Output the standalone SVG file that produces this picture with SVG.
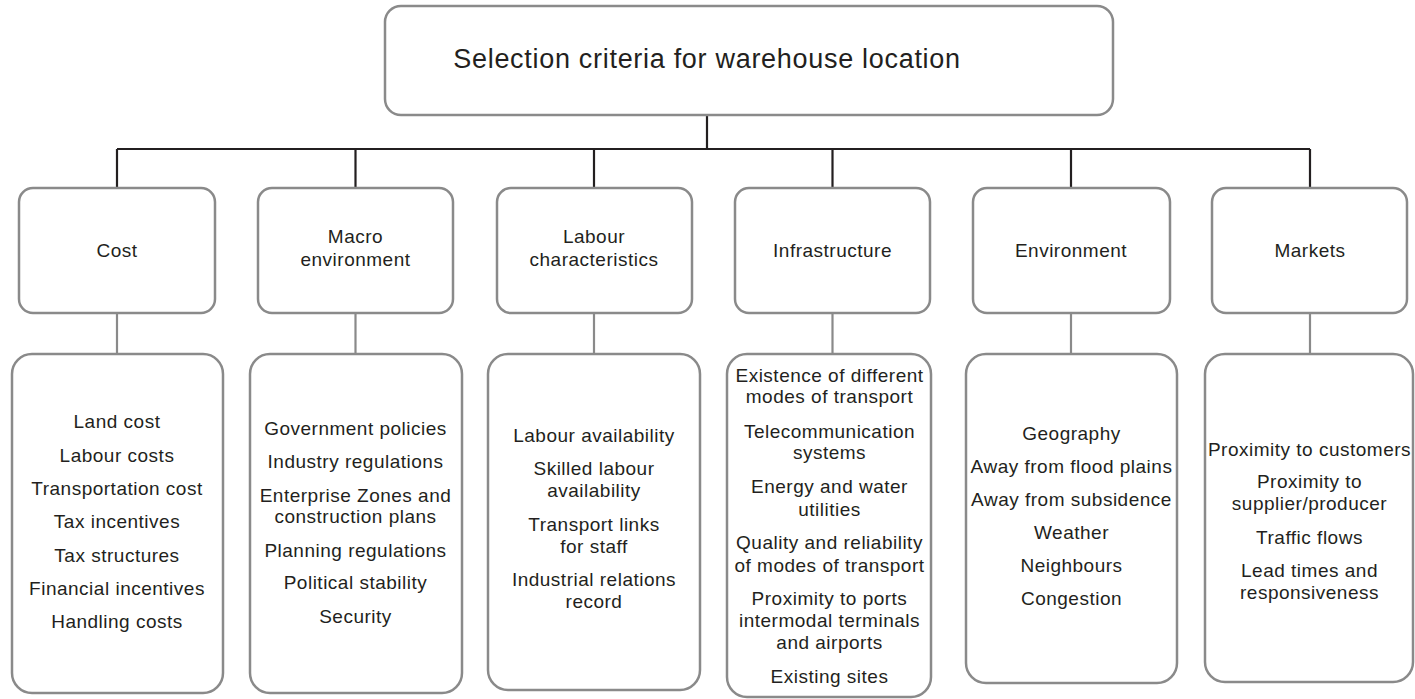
<svg xmlns="http://www.w3.org/2000/svg" width="1415" height="699" viewBox="0 0 1415 699">
  <style>
    .box { fill: #ffffff; stroke: #8a8a8a; stroke-width: 2.5; }
    .trunk { fill: none; stroke: #231f20; stroke-width: 2.2; }
    .stem { fill: none; stroke: #8a8a8a; stroke-width: 2.2; }
    text { font-family: "Liberation Sans", Arial, sans-serif; fill: #231f20; text-anchor: middle; }
    .title { font-size: 27px; letter-spacing: 0.7px; }
    .cat { font-size: 19px; letter-spacing: 0.5px; }
    .item { font-size: 19px; letter-spacing: 0.5px; }
  </style>
  <rect width="1415" height="699" fill="#ffffff"/>

  <!-- connectors -->
  <g id="connectors">
    <path class="trunk" d="M707 115 V149 M117 149 H1310 M117 149 V188 M355.5 149 V188 M594 149 V188 M832.5 149 V188 M1071 149 V188 M1310 149 V188"/>
    <path class="stem" d="M117 313 V354 M355.5 313 V354 M594 313 V354 M832.5 313 V354 M1071 313 V354 M1310 313 V354"/>
  </g>

  <!-- root -->
  <g id="root">
    <rect class="box" x="385" y="6" width="728" height="109" rx="16"/>
    <text class="title" x="707" y="68">Selection criteria for warehouse location</text>
  </g>

  <!-- categories -->
  <g id="cat-cost">
    <rect class="box" x="19" y="188" width="196" height="125" rx="14"/>
    <text class="cat" x="117" y="257">Cost</text>
  </g>
  <g id="cat-macro">
    <rect class="box" x="258" y="188" width="195" height="125" rx="14"/>
    <text class="cat" x="355.5" y="243">Macro</text>
    <text class="cat" x="355.5" y="266">environment</text>
  </g>
  <g id="cat-labour">
    <rect class="box" x="497" y="188" width="195" height="125" rx="14"/>
    <text class="cat" x="594" y="243">Labour</text>
    <text class="cat" x="594" y="266">characteristics</text>
  </g>
  <g id="cat-infra">
    <rect class="box" x="735" y="188" width="195" height="125" rx="14"/>
    <text class="cat" x="832.5" y="257">Infrastructure</text>
  </g>
  <g id="cat-env">
    <rect class="box" x="973" y="188" width="197" height="125" rx="14"/>
    <text class="cat" x="1071" y="257">Environment</text>
  </g>
  <g id="cat-markets">
    <rect class="box" x="1212" y="188" width="195" height="125" rx="14"/>
    <text class="cat" x="1310" y="257">Markets</text>
  </g>

  <!-- detail lists -->
  <g id="list-cost">
    <rect class="box" x="12" y="354" width="211" height="339" rx="20"/>
    <text class="item" x="117" y="428">Land cost</text>
    <text class="item" x="117" y="462">Labour costs</text>
    <text class="item" x="117" y="495">Transportation cost</text>
    <text class="item" x="117" y="528">Tax incentives</text>
    <text class="item" x="117" y="562">Tax structures</text>
    <text class="item" x="117" y="595">Financial incentives</text>
    <text class="item" x="117" y="628">Handling costs</text>
  </g>
  <g id="list-macro">
    <rect class="box" x="250" y="354" width="212" height="339" rx="20"/>
    <text class="item" x="355.5" y="435">Government policies</text>
    <text class="item" x="355.5" y="468">Industry regulations</text>
    <text class="item" x="355.5" y="502">Enterprise Zones and</text>
    <text class="item" x="355.5" y="523">construction plans</text>
    <text class="item" x="355.5" y="557">Planning regulations</text>
    <text class="item" x="355.5" y="589">Political stability</text>
    <text class="item" x="355.5" y="623">Security</text>
  </g>
  <g id="list-labour">
    <rect class="box" x="488" y="354" width="212" height="336" rx="20"/>
    <text class="item" x="594" y="442">Labour availability</text>
    <text class="item" x="594" y="475">Skilled labour</text>
    <text class="item" x="594" y="497">availability</text>
    <text class="item" x="594" y="531">Transport links</text>
    <text class="item" x="594" y="553">for staff</text>
    <text class="item" x="594" y="586">Industrial relations</text>
    <text class="item" x="594" y="608">record</text>
  </g>
  <g id="list-infra">
    <rect class="box" x="727" y="354" width="204" height="343" rx="20"/>
    <text class="item" x="829.5" y="382">Existence of different</text>
    <text class="item" x="829.5" y="403">modes of transport</text>
    <text class="item" x="829.5" y="438">Telecommunication</text>
    <text class="item" x="829.5" y="459">systems</text>
    <text class="item" x="829.5" y="493">Energy and water</text>
    <text class="item" x="829.5" y="516">utilities</text>
    <text class="item" x="829.5" y="549">Quality and reliability</text>
    <text class="item" x="829.5" y="572">of modes of transport</text>
    <text class="item" x="829.5" y="605">Proximity to ports</text>
    <text class="item" x="829.5" y="627">intermodal terminals</text>
    <text class="item" x="829.5" y="649">and airports</text>
    <text class="item" x="829.5" y="683">Existing sites</text>
  </g>
  <g id="list-env">
    <rect class="box" x="966" y="354" width="211" height="329" rx="20"/>
    <text class="item" x="1071.5" y="440">Geography</text>
    <text class="item" x="1071.5" y="473">Away from flood plains</text>
    <text class="item" x="1071.5" y="506">Away from subsidence</text>
    <text class="item" x="1071.5" y="539">Weather</text>
    <text class="item" x="1071.5" y="572">Neighbours</text>
    <text class="item" x="1071.5" y="605">Congestion</text>
  </g>
  <g id="list-markets">
    <rect class="box" x="1205" y="354" width="208" height="328" rx="20"/>
    <text class="item" x="1309.5" y="456">Proximity to customers</text>
    <text class="item" x="1309.5" y="488">Proximity to</text>
    <text class="item" x="1309.5" y="510">supplier/producer</text>
    <text class="item" x="1309.5" y="544">Traffic flows</text>
    <text class="item" x="1309.5" y="577">Lead times and</text>
    <text class="item" x="1309.5" y="599">responsiveness</text>
  </g>
</svg>
